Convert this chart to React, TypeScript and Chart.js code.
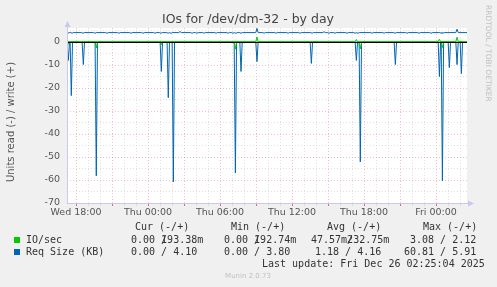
import React, { useEffect, useRef } from "react";
import { Chart, registerables } from "chart.js";

Chart.register(...registerables);

// ---- axes ----
const X_MIN = 17.25; // hours since Wed 00:00
const X_MAX = 50.58;
const Y_MIN = -70;
const Y_MAX = 6.1;
const xTickHours = [18, 24, 30, 36, 42, 48];
const xTickLabels = ["Wed 18:00", "Thu 00:00", "Thu 06:00", "Thu 12:00", "Thu 18:00", "Fri 00:00"];
const yTickValues = [0, -10, -20, -30, -40, -50, -60, -70];

// ---- Req Size (KB) ----
const reqReadBase = 0;
const reqReadHours = [17.36, 17.61, 18.61, 19.69, 25.11, 25.69, 26.11, 31.28, 31.75, 33.08, 37.61, 41.36, 41.69, 44.61, 48.28, 48.53, 49.11, 49.75, 50.11];
const reqReadValues = [-8.0, -23.3, -9.8, -58.2, -12.8, -24.2, -60.81, -56.9, -12.8, -8.5, -9.3, -8.0, -52.1, -9.8, -15.0, -60.4, -11.1, -9.8, -13.7];

const reqWriteBase = 4.1;
const reqWriteHours = [17.33, 17.67, 18.58, 19.58, 20.58, 21.58, 22.58, 23.58, 24.58, 25.08, 25.67, 25.92, 26.67, 27.67, 28.08, 28.67, 29.67, 30.67, 31.08, 31.33, 31.75, 33.08, 33.67, 34.67, 35.67, 36.67, 37.67, 38.67, 39.08, 39.58, 40.58, 41.25, 41.5, 42.67, 43.67, 44.58, 45.58, 46.58, 47.58, 48.42, 48.58, 49.75];
const reqWriteValues = [3.8, 3.8, 3.8, 3.8, 3.8, 3.8, 3.8, 3.8, 3.8, 3.8, 3.8, 3.8, 4.6, 3.8, 3.8, 3.8, 3.8, 3.8, 3.8, 3.8, 3.8, 5.91, 3.8, 3.8, 3.8, 3.8, 3.8, 4.5, 3.8, 3.8, 3.8, 3.8, 3.8, 3.8, 3.8, 3.8, 3.8, 3.8, 3.8, 3.8, 3.8, 5.6];

// ---- IO/sec ----
const ioReadBase = 0;
const ioReadHours = [17.36, 19.69, 25.11, 31.28, 41.69, 48.53];
const ioReadValues = [-1.0, -2.6, -1.2, -3.08, -3.0, -2.4];

const ioWriteBase = 0.19;
const ioWriteHours = [33.08, 41.36, 48.28, 49.75];
const ioWriteValues = [2.12, 1.1, 1.2, 2.1];

// ---- legend ----
const legendHeaders = ["Cur (-/+)", "Min (-/+)", "Avg (-/+)", "Max (-/+)"];
const ioLegendLeft = ["0.00 /", "0.00 /", "47.57m/", "3.08 / 2.12"];
const ioLegendRight = ["193.38m", "192.74m", "232.75m", ""];
const reqLegend = ["0.00 / 4.10", "0.00 / 3.80", "1.18 / 4.16", "60.81 / 5.91"];

const GREEN = "#00cc00";
const BLUE = "#0066b3";

function spikeSeries(base: number, hours: number[], values: number[]) {
  const pts: { x: number; y: number }[] = [{ x: X_MIN, y: base }];
  hours.forEach((h, i) => {
    pts.push({ x: h - 0.1, y: base }, { x: h, y: values[i] }, { x: h + 0.1, y: base });
  });
  pts.push({ x: X_MAX, y: base });
  return pts;
}

const decorPlugin = {
  id: "decor",
  beforeDraw(chart: any) {
    const { ctx, chartArea } = chart;
    ctx.save();
    ctx.fillStyle = "#f0f0f0";
    ctx.fillRect(0, 0, chart.width, chart.height);
    ctx.fillStyle = "#ffffff";
    ctx.fillRect(chartArea.left, chartArea.top, chartArea.right - chartArea.left, chartArea.bottom - chartArea.top);
    ctx.restore();
  },
  afterDatasetsDraw(chart: any) {
    const { ctx, chartArea, scales } = chart;
    const y0 = Math.round(scales.y.getPixelForValue(0));
    ctx.save();
    ctx.fillStyle = "#000000";
    ctx.fillRect(chartArea.left, y0, chartArea.right - chartArea.left, 1);
    ctx.restore();
  },
  afterDraw(chart: any) {
    const { ctx, chartArea } = chart;
    const L = chartArea.left;
    const B = chartArea.bottom;
    ctx.save();
    // axes with arrows
    ctx.strokeStyle = "#c8c8f0";
    ctx.fillStyle = "#c8c8f0";
    ctx.lineWidth = 1;
    ctx.beginPath();
    ctx.moveTo(L + 0.5, B);
    ctx.lineTo(L + 0.5, 25);
    ctx.moveTo(L, B + 0.5);
    ctx.lineTo(chartArea.right + 2, B + 0.5);
    ctx.stroke();
    ctx.beginPath();
    ctx.moveTo(L + 0.5, 21);
    ctx.lineTo(L - 2.5, 27);
    ctx.lineTo(L + 3.5, 27);
    ctx.closePath();
    ctx.fill();
    ctx.beginPath();
    ctx.moveTo(chartArea.right + 7, B + 0.5);
    ctx.lineTo(chartArea.right + 1, B - 2.5);
    ctx.lineTo(chartArea.right + 1, B + 3.5);
    ctx.closePath();
    ctx.fill();

    // title
    ctx.fillStyle = "#444";
    ctx.font = "12.5px 'DejaVu Sans'";
    ctx.textAlign = "center";
    ctx.textBaseline = "middle";
    ctx.fillText("IOs for /dev/dm-32 - by day", 248, 20);

    // y axis title
    ctx.save();
    ctx.translate(11, 122);
    ctx.rotate(-Math.PI / 2);
    ctx.font = "10px 'DejaVu Sans'";
    ctx.fillStyle = "#555";
    ctx.fillText("Units read (-) / write (+)", 0, 0);
    ctx.restore();

    // rrdtool credit
    ctx.save();
    ctx.translate(488, 5);
    ctx.rotate(Math.PI / 2);
    ctx.font = "7.5px 'DejaVu Sans'";
    ctx.fillStyle = "#c0c0c0";
    ctx.textAlign = "left";
    ctx.fillText("RRDTOOL / TOBI OETIKER", 0, 0);
    ctx.restore();

    // legend
    const cw = 6.02;
    ctx.font = "10px 'DejaVu Sans Mono'";
    ctx.fillStyle = "#333";
    ctx.textAlign = "left";
    const headerX = [135, 231, 327, 423];
    legendHeaders.forEach((t, i) => ctx.fillText(t, headerX[i], 227.5));

    ctx.fillStyle = GREEN;
    ctx.fillRect(14, 237, 6, 6);
    ctx.fillStyle = BLUE;
    ctx.fillRect(14, 249, 6, 6);

    ctx.fillStyle = "#333";
    ctx.fillText("IO/sec", 26, 240);
    ctx.fillText("Req Size (KB)", 26, 252);
    const ioX = [131, 224, 311, 410];
    ioLegendLeft.forEach((t, i) => {
      ctx.fillText(t, ioX[i], 240);
      if (ioLegendRight[i]) ctx.fillText(ioLegendRight[i], ioX[i] + (t.length - 1) * cw, 240);
    });
    const reqX = [131, 224, 315, 404];
    reqLegend.forEach((t, i) => ctx.fillText(t, reqX[i], 252));
    ctx.fillText("Last update: Fri Dec 26 02:25:04 2025", 262, 264);

    ctx.font = "7px 'DejaVu Sans'";
    ctx.fillStyle = "#c0c0c0";
    ctx.textAlign = "center";
    ctx.fillText("Munin 2.0.73", 248, 276.5);
    ctx.restore();
  },
};

export default function App() {
  const ref = useRef<HTMLCanvasElement | null>(null);

  useEffect(() => {
    if (!ref.current) return;
    const RED = "rgba(235,140,140,0.55)";
    const GRAY = "rgba(200,200,200,0.55)";
    const chart = new Chart(ref.current, {
      type: "line",
      data: {
        datasets: [
          { label: "IO/sec read", data: spikeSeries(ioReadBase, ioReadHours, ioReadValues), borderColor: GREEN, order: 0 },
          { label: "IO/sec write", data: spikeSeries(ioWriteBase, ioWriteHours, ioWriteValues), borderColor: GREEN, order: 0 },
          { label: "Req read", data: spikeSeries(reqReadBase, reqReadHours, reqReadValues), borderColor: BLUE, order: 1 },
          { label: "Req write", data: spikeSeries(reqWriteBase, reqWriteHours, reqWriteValues), borderColor: BLUE, order: 1 },
        ].map((d) => ({ ...d, borderWidth: 1, pointRadius: 0, tension: 0, fill: false })) as any,
      },
      options: {
        animation: false,
        responsive: false,
        maintainAspectRatio: false,
        layout: { padding: { left: 0, right: 30, top: 28, bottom: 64 } },
        plugins: { legend: { display: false }, tooltip: { enabled: false }, title: { display: false } },
        scales: {
          x: {
            type: "linear",
            min: X_MIN,
            max: X_MAX,
            afterFit: (s: any) => { s.height = 20; },
            border: { display: false, dash: [1, 2] },
            grid: {
              color: (c: any) => (Math.round(c.tick.value) % 3 === 0 ? RED : GRAY),
              tickColor: (c: any) => (Math.round(c.tick.value) % 3 === 0 ? "rgba(230,90,90,0.9)" : "rgba(200,200,200,0.5)"),
              tickLength: 3,
              tickBorderDash: [],
              drawTicks: true,
            },
            ticks: {
              stepSize: 1,
              autoSkip: false,
              includeBounds: false,
              maxRotation: 0,
              minRotation: 0,
              padding: 1,
              color: "#555",
              font: { family: "'DejaVu Sans'", size: 9.5 },
              callback: (v: any) => {
                const i = xTickHours.indexOf(Math.round(Number(v)));
                return i >= 0 && Math.abs(Number(v) - xTickHours[i]) < 1e-6 ? xTickLabels[i] : "";
              },
            },
          },
          y: {
            type: "linear",
            min: Y_MIN,
            max: Y_MAX,
            afterFit: (s: any) => { s.width = 67; },
            border: { display: false, dash: [1, 2] },
            grid: {
              color: (c: any) => (Math.round(c.tick.value) % 10 === 0 ? RED : GRAY),
              drawTicks: false,
            },
            ticks: {
              stepSize: 5,
              autoSkip: false,
              includeBounds: false,
              padding: 7,
              color: "#555",
              font: { family: "'DejaVu Sans'", size: 9.5 },
              callback: (v: any) => {
                const n = Math.round(Number(v));
                return yTickValues.includes(n) ? String(n) : "";
              },
            },
          },
        },
      },
      plugins: [decorPlugin],
    });
    return () => chart.destroy();
  }, []);

  return (
    <div style={{ position: "fixed", left: 0, top: 0, width: 497, height: 287 }}>
      <canvas ref={ref} width={497} height={287} style={{ width: 497, height: 287, display: "block" }} />
    </div>
  );
}
